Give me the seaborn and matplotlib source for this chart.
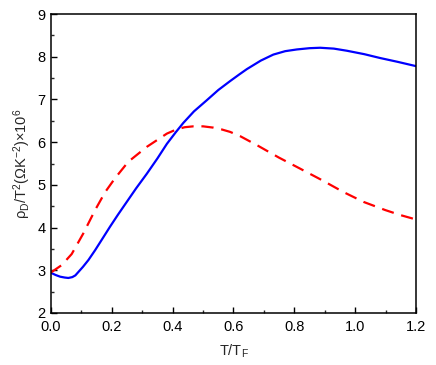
import numpy as np
import pandas as pd
import matplotlib
matplotlib.use("Agg")
import matplotlib.pyplot as plt
import seaborn as sns
from matplotlib.ticker import MultipleLocator

# values
t_blue = [0.0, 0.015, 0.03, 0.045, 0.057, 0.07, 0.08, 0.09, 0.105, 0.123, 0.145,
          0.17, 0.194, 0.22, 0.249, 0.28, 0.315, 0.35, 0.381, 0.41, 0.435, 0.47,
          0.512, 0.55, 0.589, 0.62, 0.644, 0.69, 0.731, 0.77, 0.808, 0.85,
          0.885, 0.93, 0.973, 1.03, 1.082, 1.14, 1.2]
rho_blue = [2.94, 2.89, 2.85, 2.83, 2.82, 2.84, 2.88, 2.96, 3.08, 3.24, 3.47,
            3.75, 4.02, 4.30, 4.60, 4.92, 5.26, 5.62, 5.96, 6.23, 6.45, 6.72,
            6.98, 7.22, 7.43, 7.59, 7.71, 7.91, 8.05, 8.13, 8.17, 8.20,
            8.21, 8.19, 8.14, 8.06, 7.97, 7.88, 7.78]

t_red = [0.0, 0.035, 0.068, 0.106, 0.145, 0.178, 0.211, 0.254, 0.315, 0.381,
         0.413, 0.44, 0.468, 0.50, 0.534, 0.56, 0.589, 0.622, 0.677, 0.749, 0.819,
         0.891, 0.962, 1.028, 1.099, 1.15, 1.2]
rho_red = [2.95, 3.12, 3.38, 3.86, 4.41, 4.83, 5.16, 5.54, 5.89, 6.20,
           6.30, 6.35, 6.37, 6.37, 6.34, 6.30, 6.24, 6.14, 5.93, 5.64, 5.38,
           5.11, 4.83, 4.60, 4.41, 4.29, 4.19]

sns.set_style("ticks")
plt.rcParams['font.family'] = ['Liberation Sans', 'DejaVu Sans']
plt.rcParams['mathtext.default'] = 'regular'
plt.rcParams['font.size'] = 10.5
plt.rcParams['xtick.direction'] = 'in'
plt.rcParams['ytick.direction'] = 'in'

fig = plt.figure(figsize=(4.36, 3.65), dpi=100)
ax = fig.add_axes([0.117, 0.1425, 0.837, 0.8191])

blue_df = pd.DataFrame({'t': t_blue, 'rho': rho_blue})
red_df = pd.DataFrame({'t': t_red, 'rho': rho_red})
sns.lineplot(data=blue_df, x='t', y='rho', sort=False, color='#0000ff', lw=1.6, ax=ax)
sns.lineplot(data=red_df, x='t', y='rho', sort=False, color='#ff0000', lw=1.6,
             ax=ax, linestyle=(0, (5.5, 3.5)))

ax.set_xlim(0, 1.2)
ax.set_ylim(2, 9)
ax.xaxis.set_major_locator(MultipleLocator(0.2))
ax.xaxis.set_minor_locator(MultipleLocator(0.1))
ax.yaxis.set_major_locator(MultipleLocator(1))
ax.yaxis.set_minor_locator(MultipleLocator(0.5))
ax.set_xticks(np.arange(0, 1.21, 0.2))
ax.set_xticklabels([f"{v:.1f}" for v in np.arange(0, 1.21, 0.2)])
ax.tick_params(which='major', direction='in', length=4, width=1, labelsize=10.5,
               colors='black', top=False, right=False)
ax.tick_params(axis='x', which='major', pad=5)
ax.tick_params(axis='y', which='major', pad=4)
ax.tick_params(which='minor', direction='in', length=2.5, width=1, top=False, right=False)
for s in ax.spines.values():
    s.set_visible(True)
    s.set_linewidth(1.1)
    s.set_color('black')

ax.set_xlabel('T/T$_F$', fontsize=10.5, labelpad=6)
ax.set_ylabel('ρ$_D$/T$^2$(ΩK$^{-2}$)×10$^6$', fontsize=10.5, labelpad=3)

fig.savefig('out.png', dpi=100)
